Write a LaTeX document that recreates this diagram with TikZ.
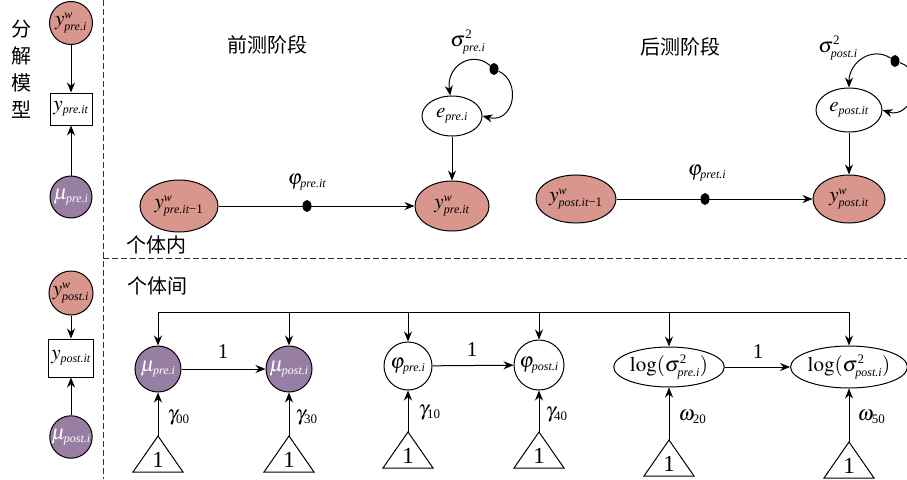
\documentclass[tikz,border=0pt]{standalone}
\usepackage{mathptmx}
\usepackage{fontspec}
\setmainfont{Liberation Serif}
\newfontfamily\cjk{Noto Sans CJK SC}
\usetikzlibrary{shapes.geometric,arrows.meta}
\definecolor{pinkfill}{RGB}{217,150,140}
\definecolor{purplefill}{RGB}{152,126,162}
\newcommand\ssb[1]{\hbox{\fontsize{12}{13}\selectfont\itshape #1}}
\newcommand\ssn[1]{\hbox{\fontsize{13}{14}\selectfont #1}}
\begin{document}
\begin{tikzpicture}[x=1pt,y=-1pt,line width=1pt,
 arr/.style={-{Stealth[length=10pt,width=8pt]}},
 dashln/.style={dash pattern=on 5.5pt off 3.5pt, line width=0.9pt, black!80},
 mt/.style={font=\fontsize{21}{24}\selectfont, inner sep=0pt},
 pcirc/.style={circle,draw,fill=pinkfill,mt},
 ucirc/.style={circle,draw,fill=purplefill,text=white,mt},
 wcirc/.style={circle,draw,fill=white,mt},
 pell/.style={ellipse,draw,fill=pinkfill,mt},
 well/.style={ellipse,draw,fill=white,mt},
 bx/.style={rectangle,draw,fill=white,mt},
 dotn/.style={ellipse,fill=black,inner sep=0pt,minimum width=9pt,minimum height=12pt},
 cn/.style={font=\cjk\fontsize{20}{27}\selectfont, inner sep=0pt},
 lab/.style={font=\fontsize{21}{24}\selectfont, inner sep=0pt},
 onelab/.style={font=\fontsize{23}{26}\selectfont, inner sep=0pt},
 tri/.style={draw,line join=miter},
]
\useasboundingbox (0,0) rectangle (907,479);

% dashed separators
\coordinate (vt) at (103,0); \coordinate (vb) at (103,479);
\coordinate (hl) at (103,258); \coordinate (hr) at (907,258);
\draw[dashln] (vt) -- (vb);
\draw[dashln] (hl) -- (hr);

% left title
\node[cn,align=center] (title) at (22,69) {分\\解\\模\\型};

% left column, upper
\node[pcirc,minimum size=43pt] (lw1) at (71,23) {$y^{\ssb{w}}_{\ssb{pre.i}}$};
\node[bx,minimum width=42pt,minimum height=32pt] (ly1) at (71,109) {$y_{\ssb{pre.it}}$};
\node[ucirc,minimum size=42pt] (lm1) at (71,197) {$\mu_{\ssb{pre.i}}$};
\draw[arr] (lw1) -- (ly1);
\draw[arr] (lm1) -- (ly1);

% left column, lower
\node[pcirc,minimum size=44pt] (lw2) at (71,293) {$y^{\ssb{w}}_{\ssb{post.i}}$};
\node[bx,minimum width=45pt,minimum height=38pt] (ly2) at (71,358) {$y_{\ssb{post.it}}$};
\node[ucirc,minimum size=42pt] (lm2) at (71,437) {$\mu_{\ssb{post.i}}$};
\draw[arr] (lw2) -- (ly2);
\draw[arr] (lm2) -- (ly2);

% headings
\node[cn] (qian) at (267,45) {前测阶段};
\node[cn] (hou) at (680,47) {后测阶段};
\node[cn] (nei) at (156,245) {个体内};
\node[cn] (jian) at (157,286) {个体间};

% within, pre
\node[pell,minimum width=78pt,minimum height=52pt] (ypm1) at (179,206) {$y^{\ssb{w}}_{\ssb{pre.it}\ssn{−1}}$};
\node[pell,minimum width=74pt,minimum height=50pt] (ypre) at (452,206) {$y^{\ssb{w}}_{\ssb{pre.it}}$};
\node[well,minimum width=60pt,minimum height=40pt] (epre) at (452,116) {$e_{\ssb{pre.i}}$};
\draw[arr] (ypm1) -- (ypre);
\node[dotn] (d1) at (307,206) {};
\node[lab] (phl1) at (307,182) {$\varphi_{\ssb{pre.it}}$};
\draw[arr] (epre) -- (ypre);
\node[lab] (sg1) at (468,42) {$\sigma^{\ssn{2}}_{\ssb{pre.i}}$};
\node[dotn] (sd1) at (494,69) {};
\draw[arr] (sd1) .. controls (472,50) and (446,66) .. (epre.95);
\draw[arr] (sd1) .. controls (522,82) and (514,124) .. (epre.east);

% within, post
\node[pell,minimum width=80pt,minimum height=48pt] (yqm1) at (576,199) {$y^{\ssb{w}}_{\ssb{post.it}\ssn{−1}}$};
\node[pell,minimum width=72pt,minimum height=48pt] (ypost) at (849,199) {$y^{\ssb{w}}_{\ssb{post.it}}$};
\node[well,minimum width=66pt,minimum height=44pt] (epost) at (849,110) {$e_{\ssb{post.it}}$};
\draw[arr] (yqm1) -- (ypost);
\node[dotn] (d2) at (705,199) {};
\node[lab] (phl2) at (707,173) {$\varphi_{\ssb{pret.i}}$};
\draw[arr] (epost) -- (ypost);
\node[lab] (sg2) at (838,48) {$\sigma^{\ssn{2}}_{\ssb{post.i}}$};
\node[dotn] (sd2) at (895,61) {};
\draw[arr] (sd2) .. controls (872,46) and (849,62) .. (epost.north);
\draw[arr] (sd2) .. controls (928,72) and (912,120) .. (epost.east);

% between
\node[ucirc,minimum size=46pt] (mupre) at (158,369) {$\mu_{\ssb{pre.i}}$};
\node[ucirc,minimum size=46pt] (mupost) at (289,369) {$\mu_{\ssb{post.i}}$};
\node[wcirc,minimum size=48pt] (phipre) at (408,366) {$\varphi_{\ssb{pre.i}}$};
\node[wcirc,minimum size=50pt] (phipost) at (539,365) {$\varphi_{\ssb{post.i}}$};
\node[well,minimum width=98pt,minimum height=40pt] (logpre) at (669,367) {$\log(\sigma^{\ssn{2}}_{\ssb{pre.i}})$};
\node[well,minimum width=100pt,minimum height=42pt] (logpost) at (849,367) {$\log(\sigma^{\ssn{2}}_{\ssb{post.i}})$};

\coordinate (busL) at (158,312); \coordinate (busR) at (849,312);
\draw (busL) -- (busR);
\draw[arr] (busL) -- (mupre);
\draw[arr] (mupost |- busL) -- (mupost);
\draw[arr] (phipre |- busL) -- (phipre);
\draw[arr] (phipost |- busL) -- (phipost);
\draw[arr] (logpre |- busL) -- (logpre);
\draw[arr] (busR) -- (logpost);

\draw[arr] (mupre) -- (mupost);
\draw[arr] (phipre) -- (phipost);
\draw[arr] (logpre) -- (logpost);
\node[lab] (one1) at (223,352) {1};
\node[lab] (one2) at (472,350) {1};
\node[lab] (one3) at (758,352) {1};

% triangles
\draw[tri] (158,436) -- (183,472) -- (133,472) -- cycle;
\draw[tri] (289,436) -- (314,472) -- (264,472) -- cycle;
\draw[tri] (408,432) -- (433,468) -- (383,468) -- cycle;
\draw[tri] (539,432) -- (564,468) -- (514,468) -- cycle;
\draw[tri] (669,440) -- (694,476) -- (644,476) -- cycle;
\draw[tri] (849,442) -- (874,478) -- (824,478) -- cycle;
\coordinate (ta1) at (158,436);
\coordinate (ta2) at (289,436);
\coordinate (ta3) at (408,432);
\coordinate (ta4) at (539,432);
\coordinate (ta5) at (669,440);
\coordinate (ta6) at (849,442);
\node[onelab] (t1) at (158,460) {1};
\node[onelab] (t2) at (289,460) {1};
\node[onelab] (t3) at (408,456) {1};
\node[onelab] (t4) at (539,456) {1};
\node[onelab] (t5) at (669,464) {1};
\node[onelab] (t6) at (849,466) {1};
\draw[arr] (ta1) -- (mupre);
\draw[arr] (ta2) -- (mupost);
\draw[arr] (ta3) -- (phipre);
\draw[arr] (ta4) -- (phipost);
\draw[arr] (ta5) -- (logpre);
\draw[arr] (ta6) -- (logpost);

\node[lab,anchor=west] (g1) at (167,418) {$\gamma_{\ssn{00}}$};
\node[lab,anchor=west] (g2) at (295,418) {$\gamma_{\ssn{30}}$};
\node[lab,anchor=west] (g3) at (418,413) {$\gamma_{\ssn{10}}$};
\node[lab,anchor=west] (g4) at (545,415) {$\gamma_{\ssn{40}}$};
\node[lab,anchor=west] (g5) at (678,417) {$\omega_{\ssn{20}}$};
\node[lab,anchor=west] (g6) at (857,417) {$\omega_{\ssn{50}}$};
\end{tikzpicture}
\end{document}
